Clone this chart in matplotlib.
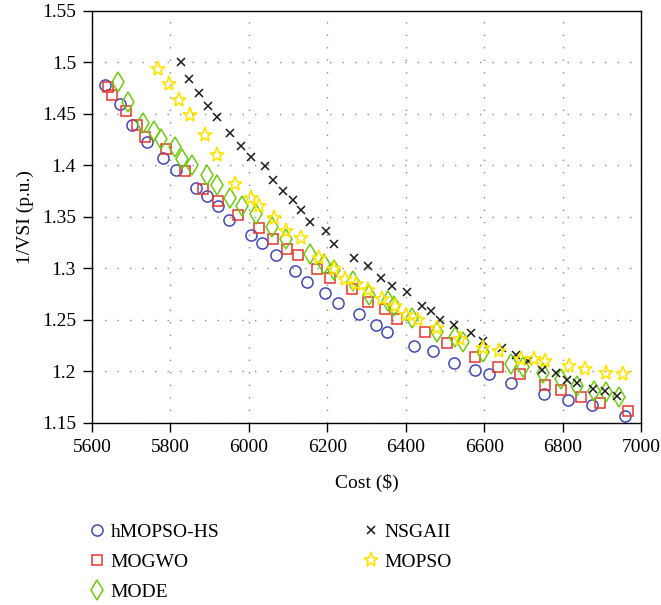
import matplotlib
matplotlib.use("Agg")
import matplotlib.pyplot as plt

plt.rcParams['font.family'] = ['Liberation Serif', 'DejaVu Serif']
plt.rcParams['font.size'] = 14

# Pareto fronts: cost ($) vs 1/VSI (p.u.)
hmopso_cost = [5634, 5671, 5702, 5740, 5781, 5815, 5865, 5893, 5921, 5950,
               6005, 6033, 6070, 6117, 6148, 6193, 6227, 6282, 6323, 6352,
               6420, 6469, 6524, 6576, 6613, 6669, 6753, 6814, 6875, 6960]
hmopso_vsi = [1.478, 1.459, 1.4385, 1.4227, 1.407, 1.3955, 1.378, 1.370, 1.360, 1.347,
              1.3326, 1.324, 1.313, 1.297, 1.2866, 1.276, 1.266, 1.2553, 1.2453, 1.238,
              1.224, 1.2198, 1.2078, 1.201, 1.197, 1.189, 1.1775, 1.172, 1.167, 1.1565]

mogwo_cost = [5641, 5651, 5687, 5715, 5735, 5788, 5837, 5882, 5921, 5973,
              6025, 6062, 6097, 6125, 6173, 6207, 6262, 6304, 6347, 6379,
              6448, 6506, 6578, 6636, 6691, 6754, 6796, 6846, 6895, 6966]
mogwo_vsi = [1.4756, 1.4678, 1.4523, 1.439, 1.4268, 1.4159, 1.3946, 1.3772, 1.3648, 1.352,
             1.339, 1.3285, 1.3183, 1.3127, 1.2989, 1.2902, 1.2796, 1.2672, 1.2599, 1.2508,
             1.2382, 1.2274, 1.2141, 1.2045, 1.1975, 1.1868, 1.182, 1.1746, 1.1694, 1.1613]

mode_cost = [5666, 5693, 5731, 5757, 5777, 5811, 5830, 5854, 5894, 5920,
             5952, 5983, 6017, 6060, 6095, 6157, 6191, 6218, 6265, 6306,
             6356, 6370, 6415, 6479, 6525, 6545, 6596, 6669, 6700, 6751,
             6795, 6836, 6879, 6912, 6945]
mode_vsi = [1.4811, 1.461, 1.4407, 1.4333, 1.4249, 1.4174, 1.4058, 1.3997, 1.3908, 1.3806,
            1.3685, 1.3607, 1.3525, 1.3398, 1.328, 1.3141, 1.3038, 1.2986, 1.2876, 1.2742,
            1.2681, 1.2633, 1.2519, 1.2377, 1.2335, 1.2279, 1.2182, 1.2069, 1.204, 1.1984,
            1.1923, 1.1856, 1.181, 1.1795, 1.1752]

nsga_cost = [5826, 5848, 5872, 5896, 5919, 5951, 5981, 6005, 6040, 6062,
             6088, 6112, 6133, 6155, 6197, 6218, 6269, 6304, 6336, 6366,
             6404, 6442, 6464, 6488, 6522, 6567, 6597, 6645, 6681, 6711,
             6748, 6784, 6812, 6838, 6877, 6908, 6938]
nsga_vsi = [1.5003, 1.4837, 1.4698, 1.4577, 1.4462, 1.4315, 1.4183, 1.4081, 1.3994, 1.386,
            1.375, 1.3658, 1.3568, 1.3448, 1.336, 1.3236, 1.3103, 1.3018, 1.2909, 1.2828,
            1.2766, 1.2634, 1.2582, 1.2492, 1.2447, 1.2366, 1.2297, 1.2224, 1.2161, 1.2103,
            1.2009, 1.1986, 1.1917, 1.1885, 1.1824, 1.1805, 1.1756]

mopso_cost = [5768, 5796, 5821, 5851, 5889, 5920, 5965, 6005, 6027, 6063,
              6094, 6132, 6178, 6217, 6245, 6274, 6303, 6340, 6372, 6400,
              6432, 6481, 6538, 6596, 6638, 6693, 6727, 6756, 6816, 6858,
              6911, 6955]
mopso_vsi = [1.4932, 1.4787, 1.4627, 1.4482, 1.4295, 1.4102, 1.3821, 1.3685, 1.36, 1.3485,
             1.3358, 1.329, 1.3101, 1.2991, 1.2897, 1.2842, 1.2786, 1.2696, 1.2633, 1.2548,
             1.2498, 1.2421, 1.2316, 1.2221, 1.2192, 1.2115, 1.2115, 1.2101, 1.2047, 1.2017,
             1.1982, 1.1977]

xticks = [5600, 5800, 6000, 6200, 6400, 6600, 6800, 7000]
yticks = [1.15, 1.2, 1.25, 1.3, 1.35, 1.4, 1.45, 1.5, 1.55]

fig = plt.figure(figsize=(6.61, 6.05), dpi=100)
ax = fig.add_axes([0.1392, 0.3013, 0.8305, 0.6813])

h1, = ax.plot(hmopso_cost, hmopso_vsi, 'o', ls='none', ms=8, mfc='none', mec='#4048b8', mew=1.1, label='hMOPSO-HS')
h2, = ax.plot(mogwo_cost, mogwo_vsi, 's', ls='none', ms=6.5, mfc='none', mec='#e8352c', mew=1.1, label='MOGWO')
h3, = ax.plot(mode_cost, mode_vsi, 'd', ls='none', ms=10, mfc='none', mec='#6ccc0a', mew=1.1, label='MODE')
h4, = ax.plot(nsga_cost, nsga_vsi, 'x', ls='none', ms=5.5, color='#1a1a1a', mew=1.1, label='NSGAII')
h5, = ax.plot(mopso_cost, mopso_vsi, '*', ls='none', ms=11, mfc='none', mec='#ffe400', mew=1.2, label='MOPSO')

ax.set_xlim(5600, 7000)
ax.set_ylim(1.15, 1.55)
ax.set_xticks(xticks)
ax.set_yticks(yticks)
ax.set_yticklabels([('%g' % v) for v in yticks])
ax.tick_params(direction='out', length=6.5, width=1, pad=5, top=False, right=False)
for s in ax.spines.values():
    s.set_linewidth(1)
ax.grid(True, color='#8a8a8a', linestyle=(0, (1, 8)), linewidth=1.0)
ax.set_axisbelow(True)

ax.set_xlabel('Cost ($)', labelpad=13)
ax.set_ylabel('1/VSI (p.u.)', labelpad=6)

fig.legend(handles=[h1, h2, h3, h4, h5], loc='upper left', bbox_to_anchor=(0.1346, 0.1345),
           ncol=2, frameon=False, borderpad=0, borderaxespad=0, handlelength=0.8,
           handletextpad=0.3, columnspacing=7.4, labelspacing=0.62)

fig.savefig('out.png', dpi=100)
